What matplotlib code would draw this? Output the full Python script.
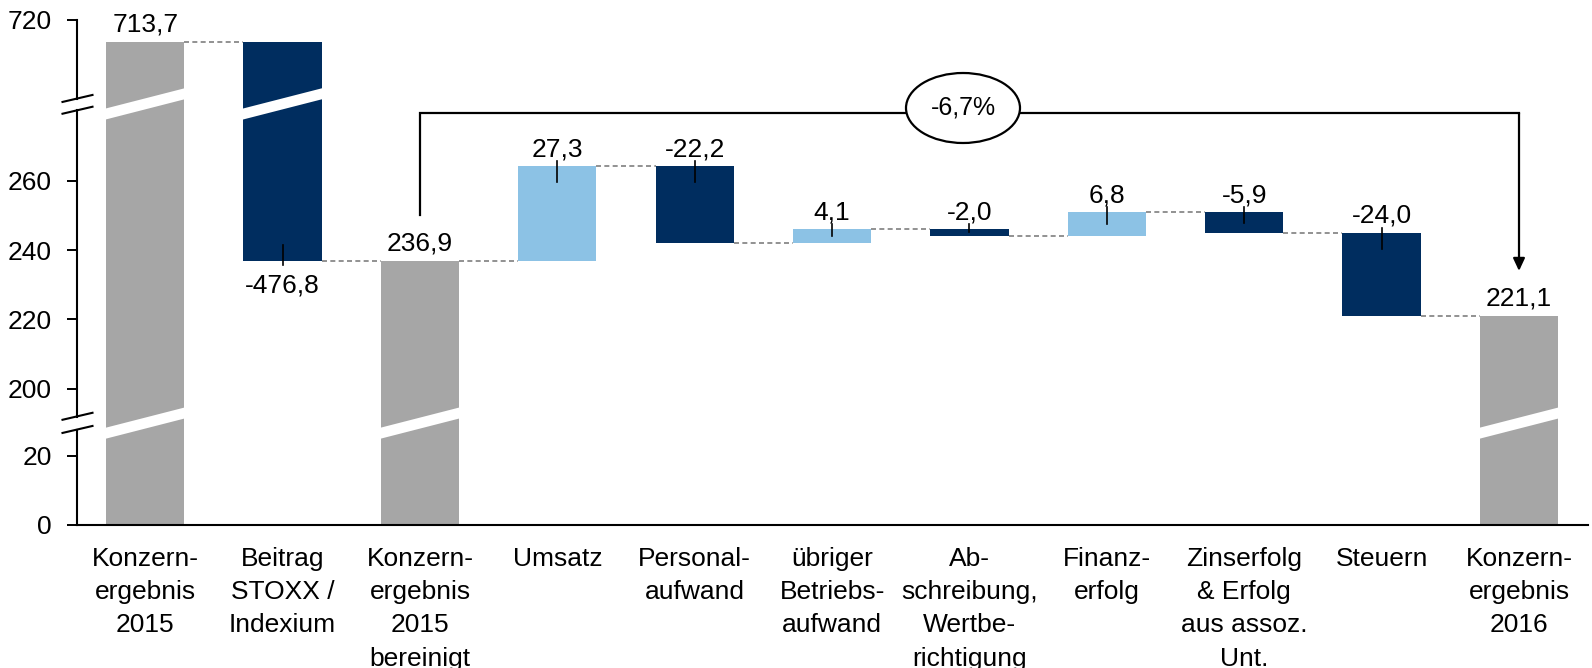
import numpy as np
import matplotlib.pyplot as plt
from matplotlib.patches import Ellipse, Polygon
from matplotlib.lines import Line2D

plt.rcParams['font.family'] = ['Liberation Sans', 'DejaVu Sans']

# ---- data ----
categories = ["Konzern-\nergebnis\n2015", "Beitrag\nSTOXX /\nIndexium",
              "Konzern-\nergebnis\n2015\nbereinigt", "Umsatz",
              "Personal-\naufwand", "übriger\nBetriebs-\naufwand",
              "Ab-\nschreibung,\nWertbe-\nrichtigung", "Finanz-\nerfolg",
              "Zinserfolg\n& Erfolg\naus assoz.\nUnt.", "Steuern",
              "Konzern-\nergebnis\n2016"]
values = [713.7, -476.8, 236.9, 27.3, -22.2, 4.1, -2.0, 6.8, -5.9, -24.0, 221.1]
is_total = [True, False, True, False, False, False, False, False, False, False, True]
yticks = [0, 20, 200, 220, 240, 260, 720]
change_label = "-6,7%"
change_from, change_to = 2, 10     # bracket from bar 3 to the last bar

GRAY = "#A6A6A6"
NAVY = "#002D5F"
LIGHT = "#8CC2E5"
FS = 19

# broken y axis: real value -> compressed coordinate (piecewise linear)
BRK_V = [-1000, 0, 27, 192, 280, 698, 2000]
BRK_C = [-1000, 0, 27, 31.3, 119.3, 123.7, 1425.7]
LOW_BREAK_C, UP_BREAK_C = 29.4, 121.5
AXIS_GAPS = [(27.5, 31.3), (119.6, 123.0)]


def fwd(v):
    return np.interp(v, BRK_V, BRK_C)


def inv(c):
    return np.interp(c, BRK_C, BRK_V)


def fmt(v):
    return f"{v:.1f}".replace(".", ",")


# ---- waterfall geometry ----
bottoms, heights, colors, levels = [], [], [], []
level = 0.0
for v, tot in zip(values, is_total):
    if tot:
        bottoms.append(0.0); heights.append(v); colors.append(GRAY)
        level = v
    else:
        new = level + v
        bottoms.append(min(level, new)); heights.append(abs(v))
        colors.append(LIGHT if v > 0 else NAVY)
        level = new
    levels.append(level)

W, H, DPI = 1592, 668, 100
fig = plt.figure(figsize=(W / DPI, H / DPI), dpi=DPI)
L, R, B, T = 76.5, 1587.7, 525, 20
ax = fig.add_axes([L / W, 1 - B / H, (R - L) / W, (B - T) / H])
ax.set_yscale("function", functions=(fwd, inv))
ax.set_ylim(0, 720)
ax.set_xlim(-0.5, len(values) - 0.5)
c_top = float(fwd(720))
px_per_c = (B - T) / c_top

x = np.arange(len(values))
bw = 0.57
ax.bar(x, heights, bottom=bottoms, width=bw, color=colors, zorder=2)

# connectors
for i in range(len(values) - 1):
    ax.plot([x[i] + bw / 2, x[i + 1] - bw / 2], [levels[i], levels[i]],
            ls=(0, (3, 2)), color="#7F7F7F", lw=1.2, zorder=1)

# white slanted cuts where bars cross an axis break
slope = (20 / 78) * (R - L) / 11 / (B - T)   # axes-fraction rise per x unit
thick = 11 / (B - T)
for i in range(len(values)):
    top = bottoms[i] + heights[i]
    for cb, vb in ((LOW_BREAK_C, 100), (UP_BREAK_C, 500)):
        if bottoms[i] < vb < top:
            yc = cb / c_top
            x0, x1 = x[i] - bw / 2 - 0.01, x[i] + bw / 2 + 0.01
            y0 = yc - slope * (x[i] - x0)
            y1 = yc + slope * (x1 - x[i])
            ax.add_patch(Polygon([(x0, y0 - thick / 2), (x1, y1 - thick / 2),
                                  (x1, y1 + thick / 2), (x0, y0 + thick / 2)],
                                 closed=True, facecolor="white", edgecolor="none",
                                 transform=ax.get_xaxis_transform(), zorder=3))

# value labels with small leader ticks
for i, v in enumerate(values):
    top = bottoms[i] + heights[i]
    ct, cbot = fwd(top), fwd(bottoms[i])
    if is_total[i]:
        ax.annotate(fmt(v), (x[i], top), xytext=(0, 7.2), textcoords="offset points",
                    ha="center", va="baseline", fontsize=FS, zorder=5)
        continue
    if top > BRK_V[4]:
        # label under the bar when its top sits above the upper break
        ax.annotate(fmt(v), (x[i], bottoms[i]), xytext=(0, -23),
                    textcoords="offset points", ha="center", va="baseline",
                    fontsize=FS, zorder=5)
        ax.plot([x[i], x[i]], [inv(cbot - 4 / px_per_c), inv(cbot + 16 / px_per_c)],
                color="black", lw=1.2, zorder=4)
    else:
        ax.annotate(fmt(v), (x[i], top), xytext=(0, 7.2), textcoords="offset points",
                    ha="center", va="baseline", fontsize=FS, zorder=5)
        down = min(16 / px_per_c, (ct - cbot) / 2)
        ax.plot([x[i], x[i]], [inv(ct + 5 / px_per_c), inv(ct - down)],
                color="black", lw=1.2, zorder=4)

# bracket with change percentage
yb = 279.5
ax.plot([x[change_from], x[change_from], x[change_to]], [250, yb, yb],
        color="black", lw=1.6, zorder=4, solid_joinstyle="miter")
ax.annotate("", xy=(x[change_to], 234), xytext=(x[change_to], yb),
            arrowprops=dict(arrowstyle="-|>,head_length=0.75,head_width=0.35",
                            color="black", lw=1.6, shrinkA=0, shrinkB=0), zorder=4)
ex, ey = (963 - L) / (R - L), (B - 108) / (B - T)
ax.add_patch(Ellipse((ex, ey), 114 / (R - L), 70 / (B - T), transform=ax.transAxes,
                     facecolor="white", edgecolor="black", lw=1.6, zorder=5))
ax.text(ex, ey, change_label, transform=ax.transAxes, ha="center", va="center",
        fontsize=FS - 1, zorder=6)

# axes styling
for s in ("top", "right", "left"):
    ax.spines[s].set_visible(False)
ax.spines["bottom"].set_linewidth(1.5)
ax.set_yticks(yticks)
ax.set_yticklabels([str(t) for t in yticks])
ax.tick_params(axis="y", length=7.2, width=1.4, pad=10.6, labelsize=FS)
ax.set_xticks(x)
ax.set_xticklabels(categories)
ax.tick_params(axis="x", length=0, pad=16, labelsize=FS)
for t in ax.get_xticklabels():
    t.set_linespacing(1.48)

# broken left spine with slanted break marks
segs = [0.0] + [g for pair in AXIS_GAPS for g in pair] + [c_top]
for a, b in zip(segs[::2], segs[1::2]):
    ax.add_line(Line2D([0, 0], [a / c_top, b / c_top], transform=ax.transAxes,
                       color="black", lw=1.5, clip_on=False))
dxl, dxr = -14 / (R - L), 16 / (R - L)
k = (7 / 30) / (B - T)
for g in AXIS_GAPS:
    for c in g:
        yc = c / c_top
        ax.add_line(Line2D([dxl, dxr], [yc - k * 14, yc + k * 16],
                           transform=ax.transAxes, color="black", lw=1.5,
                           clip_on=False))

fig.savefig("out.png", dpi=DPI)
